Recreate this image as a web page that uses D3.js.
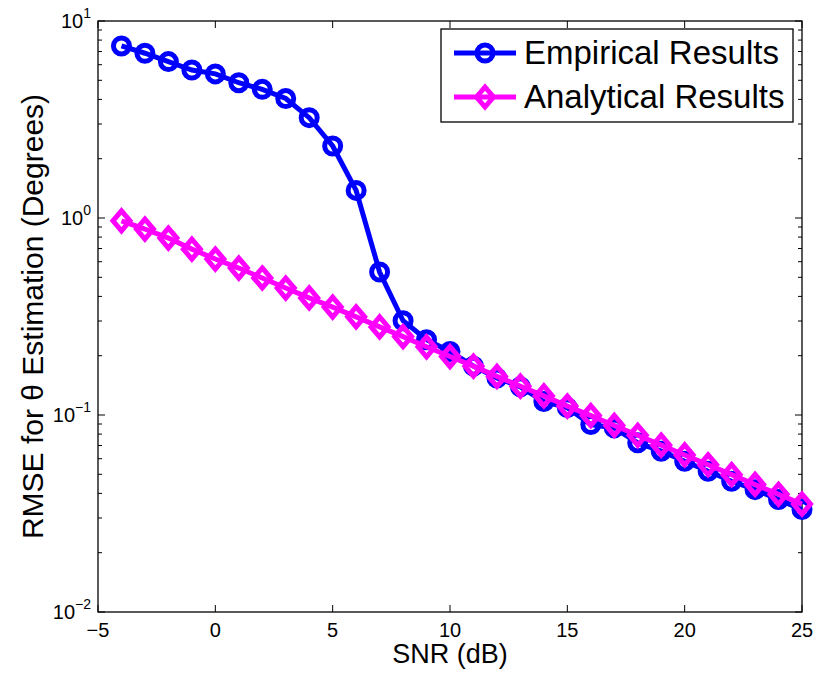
<!DOCTYPE html>
<html>
<head>
<meta charset="utf-8">
<script src="https://cdn.jsdelivr.net/npm/d3@7"></script>
<style>
  body { margin: 0; background: #fff; }
  text { font-family: "Liberation Sans", Arial, sans-serif; fill: #000; }
</style>
</head>
<body>
<div id="chart"></div>
<script>
// SNR values (dB)
var snr = [-4, -3, -2, -1, 0, 1, 2, 3, 4, 5, 6, 7, 8, 9, 10, 11, 12, 13, 14, 15,
  16, 17, 18, 19, 20, 21, 22, 23, 24, 25];

// RMSE of theta estimation (degrees)
var empirical = [7.47, 6.86, 6.22, 5.64, 5.39, 4.86, 4.5, 4.04, 3.23, 2.32,
  1.38, 0.532, 0.301, 0.241, 0.21, 0.177, 0.154, 0.139, 0.117, 0.109,
  0.0894, 0.086, 0.0722, 0.0655, 0.0582, 0.0518, 0.0461, 0.0418, 0.0372, 0.0331];

var analytical = [0.968, 0.879, 0.791, 0.695, 0.619, 0.557, 0.496, 0.441, 0.393, 0.353,
  0.315, 0.28, 0.25, 0.222, 0.198, 0.177, 0.157, 0.14, 0.125, 0.111,
  0.0993, 0.0885, 0.0789, 0.0703, 0.0627, 0.0559, 0.0498, 0.0444, 0.0396, 0.0353];

var x_ticks = [-5, 0, 5, 10, 15, 20, 25];
var y_exponents = [1, 0, -1, -2];
var series_names = ["Empirical Results", "Analytical Results"];

var width = 816, height = 679;
var m = { top: 21, right: 14, bottom: 67, left: 98 };

var svg = d3
  .select("#chart")
  .append("svg")
  .attr("width", width)
  .attr("height", height);

var x = d3.scaleLinear().domain([-5, 25]).range([m.left, width - m.right]);
var y = d3.scaleLog().domain([0.01, 10]).range([height - m.bottom, m.top]);

var x0 = x.range()[0], x1 = x.range()[1],
  y0 = y.range()[0], y1 = y.range()[1];

// ticks (inward, top/bottom and left/right)
var ticks = svg.append("g").attr("stroke", "#000").attr("stroke-width", 1);

x_ticks.forEach(function (t) {
  ticks.append("line").attr("x1", x(t)).attr("x2", x(t)).attr("y1", y0).attr("y2", y0 - 7);
  ticks.append("line").attr("x1", x(t)).attr("x2", x(t)).attr("y1", y1).attr("y2", y1 + 7);
});

y.ticks().forEach(function (t) {
  var major = Math.abs(Math.log10(t) - Math.round(Math.log10(t))) < 1e-9;
  var len = major ? 7 : 4;
  ticks.append("line").attr("x1", x0).attr("x2", x0 + len).attr("y1", y(t)).attr("y2", y(t));
  ticks.append("line").attr("x1", x1).attr("x2", x1 - len).attr("y1", y(t)).attr("y2", y(t));
});

// frame
svg
  .append("rect")
  .attr("x", x0)
  .attr("y", y1)
  .attr("width", x1 - x0)
  .attr("height", y0 - y1)
  .attr("fill", "none")
  .attr("stroke", "#000")
  .attr("stroke-width", 1.3);

// x tick labels
svg
  .selectAll(".x-label")
  .data(x_ticks)
  .enter()
  .append("text")
  .attr("x", (d) => x(d))
  .attr("y", y0 + 25)
  .attr("text-anchor", "middle")
  .style("font-size", "20px")
  .text((d) => (d < 0 ? "\u2212" + Math.abs(d) : d));

// y tick labels 10^k
var ylab = svg
  .selectAll(".y-label")
  .data(y_exponents)
  .enter()
  .append("text")
  .attr("x", x0 - 7)
  .attr("y", (d) => y(Math.pow(10, d)) + 7)
  .attr("text-anchor", "end")
  .style("font-size", "20px");
ylab.append("tspan").text("10");
ylab
  .append("tspan")
  .attr("dy", -10)
  .style("font-size", "14px")
  .text((d) => (d < 0 ? "\u2212" + Math.abs(d) : d));

// axis titles
svg
  .append("text")
  .attr("x", (x0 + x1) / 2)
  .attr("y", 663)
  .attr("text-anchor", "middle")
  .style("font-size", "27px")
  .text("SNR (dB)");

svg
  .append("text")
  .attr("transform", "translate(43," + (y0 + y1) / 2 + ") rotate(-90)")
  .attr("text-anchor", "middle")
  .style("font-size", "30px")
  .text("RMSE for \u03B8 Estimation (Degrees)");

var line = d3
  .line()
  .x((d, i) => x(snr[i]))
  .y((d) => y(d));

function diamond(cx, cy) {
  var hw = 8.5, hh = 10;
  return "M" + cx + "," + (cy - hh) + "L" + (cx + hw) + "," + cy +
    "L" + cx + "," + (cy + hh) + "L" + (cx - hw) + "," + cy + "Z";
}

// empirical series
svg
  .append("path")
  .datum(empirical)
  .attr("fill", "none")
  .attr("stroke", "#0000ff")
  .attr("stroke-width", 5)
  .attr("d", line);

svg
  .selectAll(".emp-pt")
  .data(empirical)
  .enter()
  .append("circle")
  .attr("cx", (d, i) => x(snr[i]))
  .attr("cy", (d) => y(d))
  .attr("r", 8)
  .attr("fill", "none")
  .attr("stroke", "#0000ff")
  .attr("stroke-width", 5);

// analytical series
svg
  .append("path")
  .datum(analytical)
  .attr("fill", "none")
  .attr("stroke", "#ff00ff")
  .attr("stroke-width", 5)
  .attr("d", line);

svg
  .selectAll(".ana-pt")
  .data(analytical)
  .enter()
  .append("path")
  .attr("d", (d, i) => diamond(x(snr[i]), y(d)))
  .attr("fill", "none")
  .attr("stroke", "#ff00ff")
  .attr("stroke-width", 5);

// legend
var lg = svg.append("g");
lg.append("rect")
  .attr("x", 441)
  .attr("y", 29)
  .attr("width", 352)
  .attr("height", 93)
  .attr("fill", "#fff")
  .attr("stroke", "#000")
  .attr("stroke-width", 1.3);

var colors = ["#0000ff", "#ff00ff"];
series_names.forEach(function (name, i) {
  var ly = 53 + i * 44;
  lg.append("line")
    .attr("x1", 454)
    .attr("x2", 516)
    .attr("y1", ly)
    .attr("y2", ly)
    .attr("stroke", colors[i])
    .attr("stroke-width", 5);
  if (i === 0) {
    lg.append("circle")
      .attr("cx", 485)
      .attr("cy", ly)
      .attr("r", 8)
      .attr("fill", "none")
      .attr("stroke", colors[i])
      .attr("stroke-width", 5);
  } else {
    lg.append("path")
      .attr("d", diamond(485, ly))
      .attr("fill", "none")
      .attr("stroke", colors[i])
      .attr("stroke-width", 5);
  }
  lg.append("text")
    .attr("x", 524)
    .attr("y", ly + 11)
    .style("font-size", "33px")
    .text(name);
});
</script>
</body>
</html>
